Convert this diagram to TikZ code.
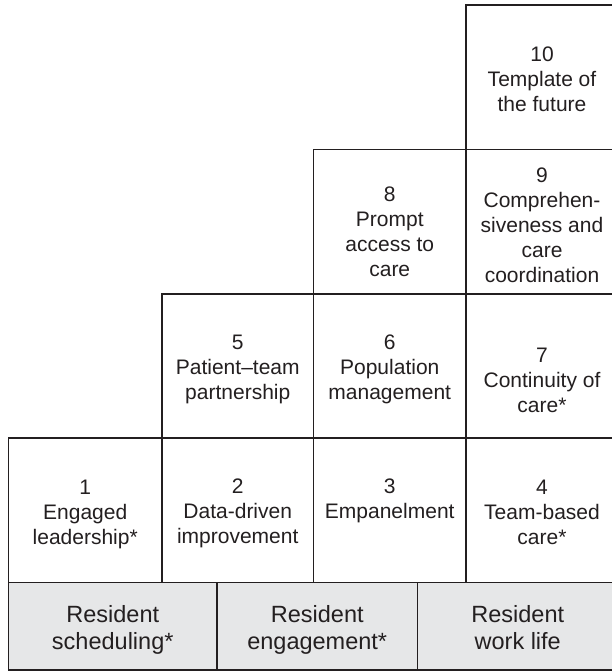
\documentclass[tikz,border=0pt]{standalone}
\usepackage{fontspec}
\setmainfont{Liberation Sans}
\definecolor{ink}{HTML}{231F20}
\definecolor{grayfill}{HTML}{E6E7E8}
\begin{document}
\begin{tikzpicture}[x=1pt,y=-1pt,
  cell/.style={draw=ink,line width=1.8pt,inner sep=0pt,outer sep=0pt,fill=white},
  graycell/.style={cell,fill=grayfill},
  txt/.style={anchor=north,inner sep=0pt,align=center,text=ink,font=\fontsize{21}{25}\selectfont},
  graytxt/.style={anchor=north,inner sep=0pt,align=center,text=ink,font=\fontsize{23.5}{27}\selectfont}]
\useasboundingbox (0,0) rectangle (612,671);
% top column
\node[cell,minimum width=152pt,minimum height=144.5pt] (c10) at (542,77.25) {};
\node[cell,minimum width=152.5pt,minimum height=144.5pt] (c8) at (389.75,221.75) {};
\node[cell,minimum width=152pt,minimum height=144.5pt] (c9) at (542,221.75) {};
\node[cell,minimum width=151.5pt,minimum height=144pt] (c5) at (237.75,366) {};
\node[cell,minimum width=152.5pt,minimum height=144pt] (c6) at (389.75,366) {};
\node[cell,minimum width=152pt,minimum height=144pt] (c7) at (542,366) {};
\node[cell,minimum width=153.5pt,minimum height=144.5pt] (c1) at (85.25,510.25) {};
\node[cell,minimum width=151.5pt,minimum height=144.5pt] (c2) at (237.75,510.25) {};
\node[cell,minimum width=152.5pt,minimum height=144.5pt] (c3) at (389.75,510.25) {};
\node[cell,minimum width=152pt,minimum height=144.5pt] (c4) at (542,510.25) {};
\node[graycell,minimum width=208.5pt,minimum height=87.5pt] (g1) at (112.75,626.25) {};
\node[graycell,minimum width=200.5pt,minimum height=87.5pt] (g2) at (317.25,626.25) {};
\node[graycell,minimum width=200.5pt,minimum height=87.5pt] (g3) at (517.75,626.25) {};
% texts
\node[txt] (t10) at ([yshift=-42pt]c10.north) {10\\Template of\\the future};
\node[txt] (t8) at ([yshift=-37.5pt]c8.north) {8\\Prompt\\access to\\care};
\node[txt] (t9) at ([yshift=-18.5pt]c9.north) {9\\Comprehen-\\siveness and\\care\\coordination};
\node[txt] (t5) at ([yshift=-41pt]c5.north) {5\\Patient–team\\partnership};
\node[txt] (t6) at ([yshift=-41pt]c6.north) {6\\Population\\management};
\node[txt] (t7) at ([yshift=-54pt]c7.north) {7\\Continuity of\\care*};
\node[txt] (t1) at ([yshift=-41.5pt]c1.north) {1\\Engaged\\leadership*};
\node[txt] (t2) at ([yshift=-41pt]c2.north) {2\\Data-driven\\improvement};
\node[txt] (t3) at ([yshift=-41pt]c3.north) {3\\Empanelment};
\node[txt] (t4) at ([yshift=-41.5pt]c4.north) {4\\Team-based\\care*};
\node[graytxt] (tg1) at ([yshift=-23.2pt]g1.north) {Resident\\scheduling*};
\node[graytxt] (tg2) at ([yshift=-23.2pt]g2.north) {Resident\\engagement*};
\node[graytxt] (tg3) at ([yshift=-23.2pt]g3.north) {Resident\\work life};
\end{tikzpicture}
\end{document}
